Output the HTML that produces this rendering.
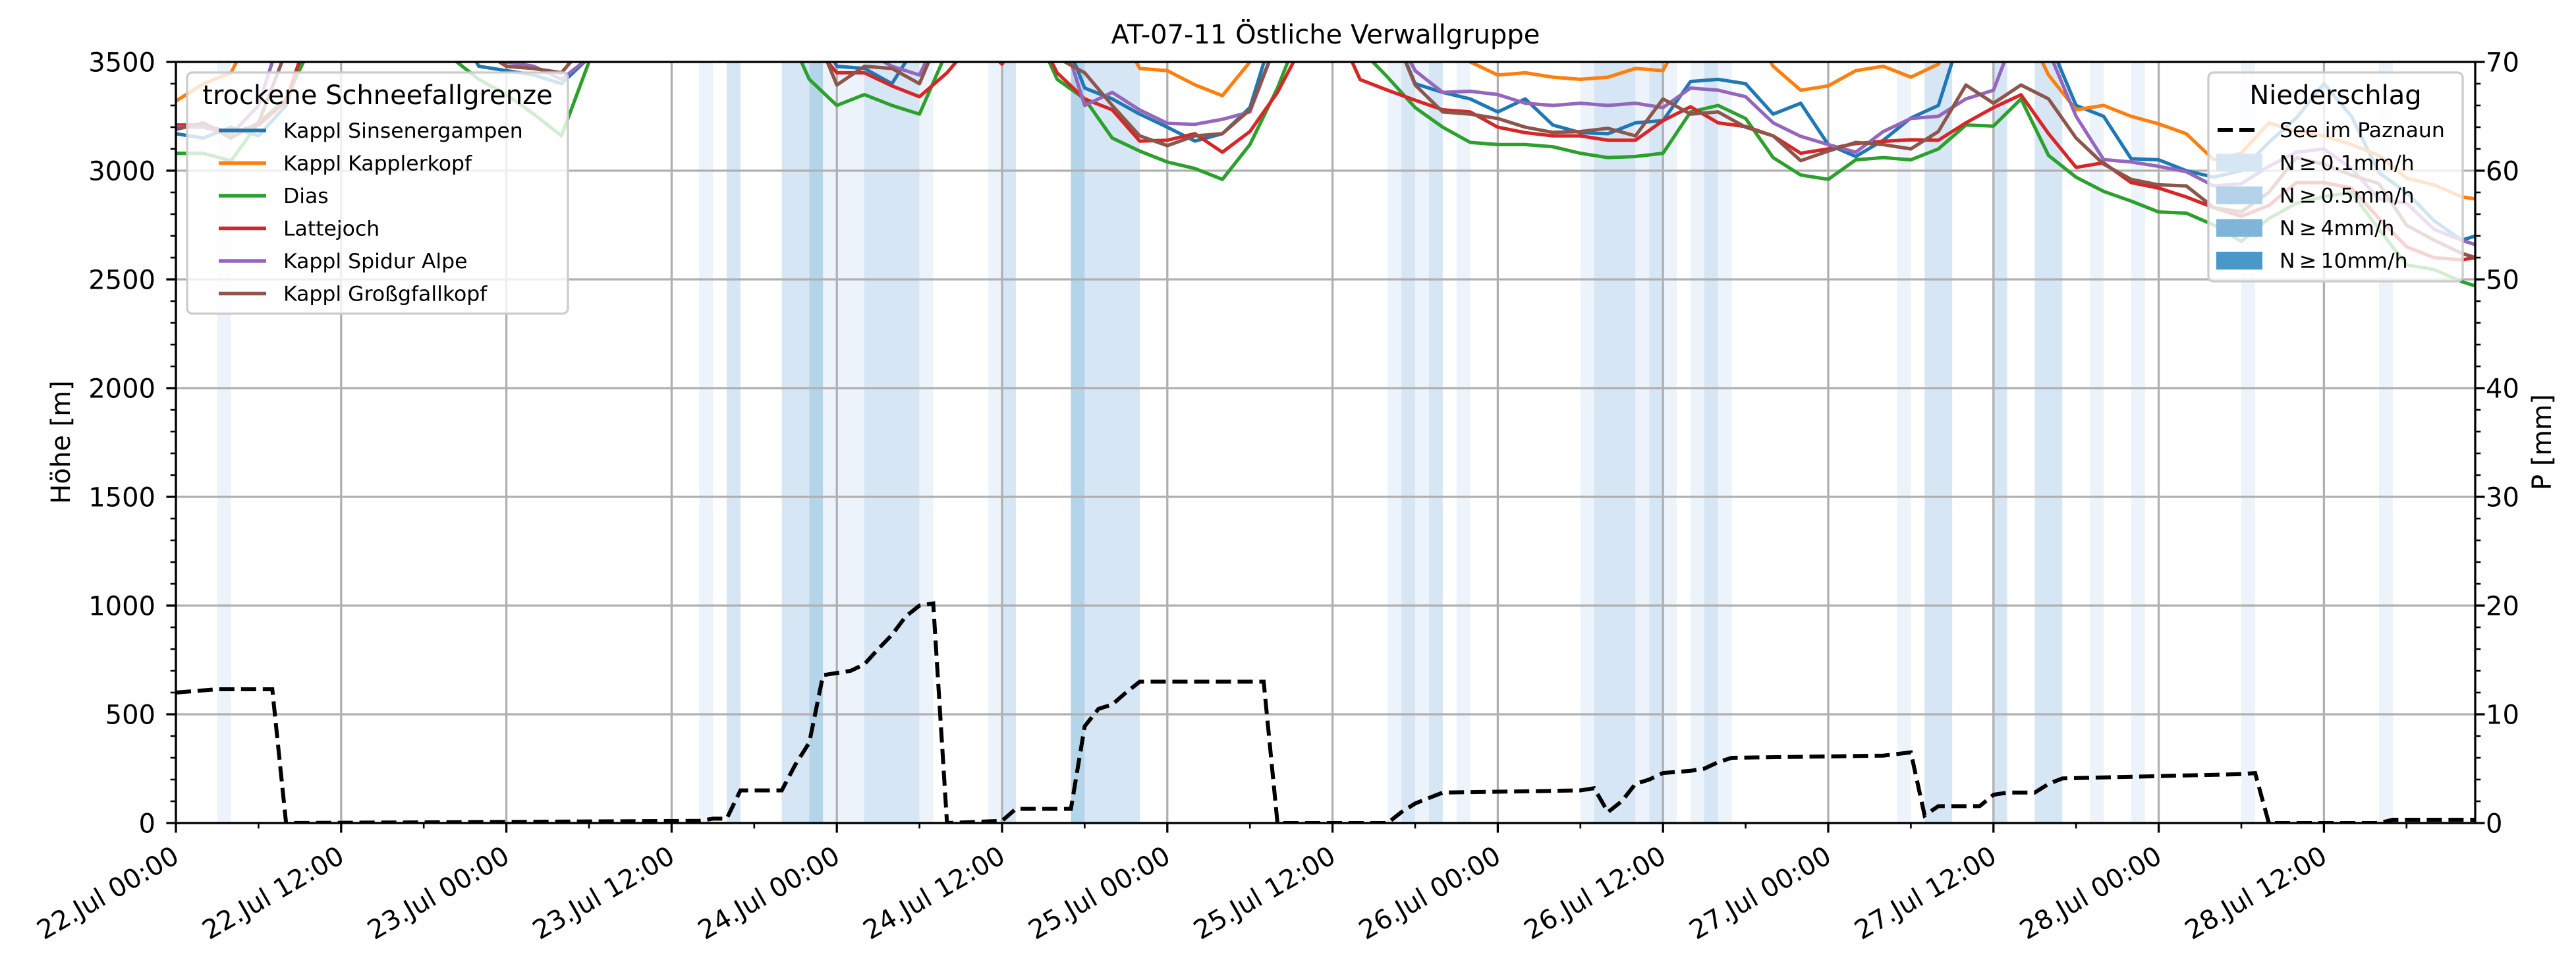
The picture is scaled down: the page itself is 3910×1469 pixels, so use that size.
<!DOCTYPE html>
<html><head><meta charset="utf-8"><style>
html,body{margin:0;padding:0;background:#fff;}
svg{display:block;font-family:"DejaVu Sans","Liberation Sans",sans-serif;}
</style></head><body>
<svg id="chart" width="3910" height="1469" viewBox="0 0 3910 1469" xmlns="http://www.w3.org/2000/svg">
<defs><clipPath id="plotclip"><rect x="267" y="94" width="3490" height="1155"/></clipPath></defs>
<rect x="0" y="0" width="3910" height="1469" fill="#fff"/>
<text x="2012" y="66" font-size="40" text-anchor="middle">AT-07-11 Östliche Verwallgruppe</text>
<g id="bands" clip-path="url(#plotclip)"></g>
<g id="grid"></g>
<g id="lines" clip-path="url(#plotclip)"></g>
<g id="dash" clip-path="url(#plotclip)"></g>
<g id="axes"></g>
<text transform="translate(106,671) rotate(-90)" font-size="40" text-anchor="middle">Höhe [m]</text>
<text transform="translate(3872,671) rotate(-90)" font-size="40" text-anchor="middle">P [mm]</text>
<g id="legend1"></g>
<g id="legend2"></g>
</svg>
<script>
const hours = [0,2,4,6,8,10,12,14,16,18,20,22,24,26,28,30,32,34,36,38,40,42,44,46,48,50,52,54,56,58,60,62,64,66,68,70,72,74,76,78,80,82,84,86,88,90,92,94,96,98,100,102,104,106,108,110,112,114,116,118,120,122,124,126,128,130,132,134,136,138,140,142,144,146,148,150,152,154,156,158,160,162,164,166,167];
const seriesNames = ["Kappl Sinsenergampen","Kappl Kapplerkopf","Dias","Lattejoch","Kappl Spidur Alpe","Kappl Großgfallkopf"];
const sinsenergampen = [3170,3150,3200,3160,3300,3700,3700,3700,3700,3700,3700,3480, 3460,3440,3400,3520,3700,3700,3700,3700,3700,3700,3700,3700, 3480,3470,3400,3600,3700,3700,3700,3700,3700,3380,3330,3260, 3200,3136,3170,3290,3700,3700,3700,3700,3700,3400,3360,3330, 3270,3330,3210,3175,3170,3220,3230,3410,3420,3400,3260,3310, 3120,3065,3140,3242,3300,3700,3700,3700,3600,3300,3250,3055, 3050,3000,2970,3000,3130,3242,3400,3250,2990,2900,2770,2680, 2700];
const kapplerkopf = [3320,3400,3450,3700,3700,3700,3700,3700,3700,3700,3700,3700, 3700,3700,3700,3700,3700,3700,3700,3700,3700,3700,3700,3700, 3700,3700,3700,3700,3700,3700,3700,3700,3700,3700,3700,3470, 3460,3395,3345,3500,3700,3700,3700,3700,3700,3700,3700,3500, 3440,3450,3430,3420,3430,3470,3460,3700,3700,3700,3480,3370, 3390,3460,3480,3430,3490,3700,3700,3700,3440,3280,3300,3250, 3215,3170,3050,3080,3220,3180,3160,3120,3070,2965,2935,2880, 2870];
const dias = [3080,3080,3045,3220,3330,3600,3700,3700,3700,3700,3520,3420, 3350,3260,3160,3500,3700,3700,3700,3700,3700,3700,3700,3420, 3300,3350,3300,3260,3550,3700,3700,3700,3420,3330,3150,3090, 3040,3010,2960,3120,3380,3700,3700,3560,3430,3290,3200,3130, 3120,3120,3110,3080,3060,3065,3080,3270,3300,3240,3060,2980, 2960,3050,3060,3050,3100,3210,3205,3330,3070,2970,2905,2860, 2810,2805,2750,2675,2780,2850,2880,2900,2730,2567,2545,2490, 2470];
const lattejoch = [3210,3210,3175,3210,3320,3700,3700,3700,3700,3700,3700,3560, 3480,3470,3450,3600,3700,3700,3700,3700,3700,3700,3700,3600, 3450,3450,3390,3340,3450,3600,3490,3700,3450,3330,3280,3136, 3140,3170,3085,3180,3360,3600,3700,3419,3370,3324,3280,3270, 3200,3175,3160,3160,3140,3140,3230,3294,3220,3203,3160,3080, 3100,3125,3135,3142,3140,3220,3290,3349,3170,3015,3036,2945, 2920,2879,2830,2790,2840,2945,2945,2920,2780,2650,2600,2590, 2600];
const spidurAlpe = [3200,3200,3165,3300,3700,3700,3700,3700,3700,3700,3700,3520, 3500,3480,3420,3520,3700,3700,3700,3700,3700,3700,3700,3700, 3600,3550,3480,3440,3700,3700,3700,3700,3700,3300,3360,3279, 3218,3213,3236,3270,3600,3700,3700,3700,3700,3460,3360,3365, 3350,3310,3300,3310,3300,3310,3290,3380,3370,3340,3220,3158, 3120,3085,3180,3240,3250,3330,3370,3700,3550,3250,3051,3040, 3020,2995,2930,2940,3020,3085,3100,3010,2870,2850,2730,2680, 2660];
const grossgfallkopf = [3190,3220,3150,3220,3550,3700,3700,3700,3700,3700,3700,3600, 3480,3470,3450,3600,3700,3700,3700,3700,3700,3700,3700,3700, 3394,3480,3470,3400,3700,3700,3700,3700,3520,3450,3300,3160, 3115,3160,3170,3280,3600,3700,3700,3700,3700,3394,3270,3260, 3240,3200,3176,3180,3195,3160,3330,3260,3270,3200,3160,3046, 3090,3130,3120,3100,3180,3394,3310,3394,3330,3150,3030,2960, 2935,2930,2830,2810,2900,3060,3030,2980,2940,2749,2680,2620, 2600];
const seriesColors = ["#1f77b4","#ff7f0e","#2ca02c","#d62728","#9467bd","#8c564b"];
const precipHours = [0,3,7,8,38,39,40,41,44,45,46,47,49,50,51,52,53,54,55,56,60,61,65,66,67,68,69,70,79,80,88,89,90,91,92,102,103,104,105,106,107,108,110,111,112,113,124,126,127,128,131,132,133,135,136,137,150,151,152,160,161,167];
const precipValues = [12,12.3,12.3,0,0.2,0.4,0.4,3,3,5.4,7.4,13.6,14,14.6,16,17.3,19,20,20.2,0,0.2,1.3,1.3,8.9,10.5,10.9,12,13,13,0,0,1,1.8,2.3,2.8,3.0,3.2,1.0,2,3.6,4,4.6,4.8,5,5.6,6,6.2,6.5,0.7,1.55,1.55,2.6,2.8,2.8,3.6,4.1,4.5,4.6,0,0,0.3,0.3];
const bandStart = [3,38,40,44,46,47,50,54,59,60,65,66,88,89,90,91,93,102,103,106,107,108,110,111,112,125,127,132,135,139,142,150,160];
const bandEnd   = [4,39,41,46,47,50,54,55,60,61,66,70,89,90,91,92,94,103,106,107,108,109,111,112,113,126,129,133,137,140,143,151,161];
const bandLevel = [0,0,1,1,2,0,1,0,0,1,2,1,0,1,0,1,0,0,1,0,1,0,0,1,0,0,1,1,1,0,0,0,0];
const xTickLabels = ["22.Jul 00:00","22.Jul 12:00","23.Jul 00:00","23.Jul 12:00","24.Jul 00:00","24.Jul 12:00","25.Jul 00:00","25.Jul 12:00","26.Jul 00:00","26.Jul 12:00","27.Jul 00:00","27.Jul 12:00","28.Jul 00:00","28.Jul 12:00"];
const yTicks = [0,500,1000,1500,2000,2500,3000,3500];
const y2Ticks = [0,10,20,30,40,50,60,70];
const precipLegend = ["N\u2009≥\u20090.1mm/h","N\u2009≥\u20090.5mm/h","N\u2009≥\u20094mm/h","N\u2009≥\u200910mm/h"];

const NS="http://www.w3.org/2000/svg";
const L=267,R=3757,T=94,B=1249;
const X=h=>L+h*20.9;
const Y=m=>B-(m-0)*(B-T)/3500;
const Y2=p=>B-p*(B-T)/70;
function mk(tag,attrs,parent){const e=document.createElementNS(NS,tag);for(const k in attrs)e.setAttribute(k,attrs[k]);parent.appendChild(e);return e;}
const bandColors=["#edf3fa","#d6e6f4","#b4d4ea"];
const gB=document.getElementById('bands');
for(let i=0;i<bandStart.length;i++){
  const r=mk('rect',{x:X(bandStart[i]),y:T,width:X(bandEnd[i])-X(bandStart[i]),height:B-T,fill:bandColors[bandLevel[i]]},gB);
  
  
}
const gG=document.getElementById('grid');
for(let i=0;i<xTickLabels.length;i++){
  const l=mk('line',{x1:X(i*12),x2:X(i*12),y1:T,y2:B,stroke:'#b0b0b0','stroke-width':3.3},gG);
  
  
}
for(const v of yTicks){
  const l=mk('line',{x1:L,x2:R,y1:Y(v),y2:Y(v),stroke:'#b0b0b0','stroke-width':3.3},gG);
  
  
}
const gL=document.getElementById('lines');
const allSeries=[sinsenergampen,kapplerkopf,dias,lattejoch,spidurAlpe,grossgfallkopf];
allSeries.forEach((s,si)=>{
  const d=s.map((v,i)=>(i?'L':'M')+X(hours[i]).toFixed(1)+','+Y(v).toFixed(1)).join(' ');
  const p=mk('path',{d:d,fill:'none',stroke:seriesColors[si],'stroke-width':5.2,'stroke-linejoin':'round'},gL);
  
  
});
const gD=document.getElementById('dash');
{
  const d=precipValues.map((v,i)=>(i?'L':'M')+X(precipHours[i]).toFixed(1)+','+Y2(v).toFixed(1)).join(' ');
  const p=mk('path',{d:d,fill:'none',stroke:'#000','stroke-width':6,'stroke-dasharray':'23 10'},gD);
  
  
}
const gA=document.getElementById('axes');
mk('rect',{x:L,y:T,width:R-L,height:B-T,fill:'none',stroke:'#000','stroke-width':3.3},gA);
for(let i=0;i<xTickLabels.length;i++){
  const x=X(i*12);
  mk('line',{x1:x,x2:x,y1:B,y2:B+14.6,stroke:'#000','stroke-width':3.3},gA);
  const t=mk('text',{x:x-7,y:1282,'font-size':40,'text-anchor':'end','dominant-baseline':'hanging',transform:`rotate(-30 ${x-7} 1282)`},gA);
  t.textContent=xTickLabels[i];
  
  
}
for(let h=6;h<167;h+=12){mk('line',{x1:X(h),x2:X(h),y1:B,y2:B+8.3,stroke:'#000','stroke-width':2.6},gA);}
for(let v=0;v<=3500;v+=100){if(v%500)mk('line',{x1:L-8.3,x2:L,y1:Y(v),y2:Y(v),stroke:'#000','stroke-width':2.6},gA);}
for(const v of yTicks){
  mk('line',{x1:L-14.6,x2:L,y1:Y(v),y2:Y(v),stroke:'#000','stroke-width':3.3},gA);
  const t=mk('text',{x:236,y:Y(v)+14.5,'font-size':40,'text-anchor':'end'},gA);
  t.textContent=v;
  
  
}
for(let v=0;v<=70;v+=2){if(v%10)mk('line',{x1:R,x2:R+8.3,y1:Y2(v),y2:Y2(v),stroke:'#000','stroke-width':2.6},gA);}
for(const v of y2Ticks){
  mk('line',{x1:R,x2:R+14.6,y1:Y2(v),y2:Y2(v),stroke:'#000','stroke-width':3.3},gA);
  const t=mk('text',{x:3773,y:Y2(v)+14.5,'font-size':40,'text-anchor':'start'},gA);
  t.textContent=v;
  
  
}
const g1=document.getElementById('legend1');
mk('rect',{x:284,y:110,width:578,height:366,rx:8,fill:'#fff','fill-opacity':0.8,stroke:'#cccccc','stroke-width':3.3},g1);
{const t=mk('text',{x:573,y:158,'font-size':40,'text-anchor':'middle'},g1);t.textContent='trockene Schneefallgrenze';

}
seriesNames.forEach((n,i)=>{
  const cy=198+i*49.5;
  const g=mk('g',{},g1);
  
  
  mk('line',{x1:332,x2:404,y1:cy,y2:cy,stroke:seriesColors[i],'stroke-width':5.5},g);
  const t=mk('text',{x:430,y:cy+11,'font-size':31.5},g);t.textContent=n;
});
const g2=document.getElementById('legend2');
mk('rect',{x:3352,y:110,width:386,height:317,rx:8,fill:'#fff','fill-opacity':0.8,stroke:'#cccccc','stroke-width':3.3},g2);
{const t=mk('text',{x:3545,y:158,'font-size':40,'text-anchor':'middle'},g2);t.textContent='Niederschlag';

}
{
  const g=mk('g',{},g2);
  
  
  mk('line',{x1:3366,x2:3424,y1:197,y2:197,stroke:'#000','stroke-width':6,'stroke-dasharray':'23 10'},g);
  const t=mk('text',{x:3460,y:208,'font-size':31.5},g);t.textContent='See im Paznaun';
}
const patchColors=["#d6e6f4","#b4d3e9","#7fb5d8","#4a97c9"];
precipLegend.forEach((n,i)=>{
  const cy=247+i*49.5;
  const g=mk('g',{},g2);
  
  
  mk('rect',{x:3364,y:cy-13.5,width:70,height:27,fill:patchColors[i]},g);
  const t=mk('text',{x:3460,y:cy+11,'font-size':31.5},g);t.textContent=n;
});
</script>
</body></html>
